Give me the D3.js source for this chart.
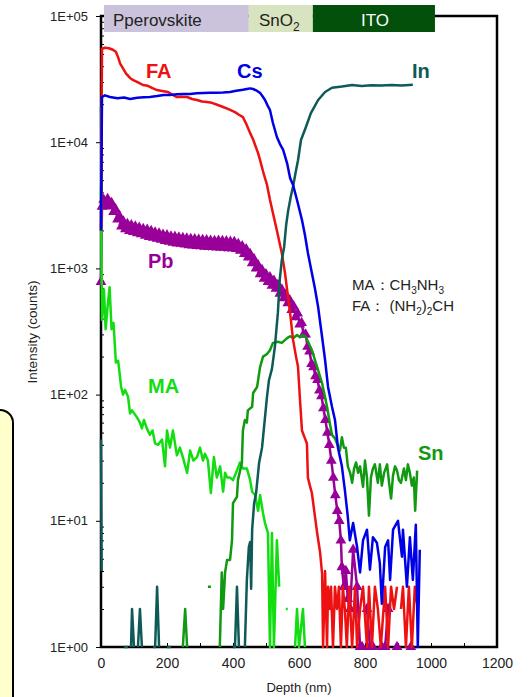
<!DOCTYPE html>
<html>
<head>
<meta charset="utf-8">
<script src="https://cdn.jsdelivr.net/npm/d3@7"></script>
<style>
body { margin: 0; background: #fff; }
svg { display: block; }
</style>
</head>
<body>
<div id="chart"></div>
<script>
// depth (nm) / intensity (counts) pairs, 0 = no counts
var FA = [[0,2000],[3,55000],[12,56000],[24,55500],[36,54000],[45,52000],[52,47000],[58,42000],[64,39500],[76,35000],[88,32300],[98,31000],[109,30000],[118,29200],[127,28400],[142,28000],[156,26800],[170,25900],[185,25500],[203,25000],[216,23800],[230,22800],[245,22900],[261,22800],[276,22000],[291,21600],[306,21000],[321,20800],[336,20500],[352,19800],[370,19000],[388,18200],[406,17300],[418,16500],[430,15800],[440,14000],[452,11800],[461,10500],[467,9500],[476,8200],[482,7200],[494,5500],[503,4600],[512,3500],[521,2750],[533,2000],[548,1320],[558,900],[564,675],[573,444],[582,271],[591,200],[597,166],[603,91],[609,52],[618,45],[624,41],[627,22],[633,19],[639,16.6],[648,11],[655,8],[664,5.6],[670,3.8],[673,1],[679,4],[685,1],[688,3],[694,2],[697,3],[703,1],[709,3],[715,2],[721,3],[727,1],[733,3],[739,2],[745,1],[752,3],[761,1],[770,3],[776,1],[785,2],[794,3],[806,1],[812,3],[821,1],[830,3],[839,2],[848,1],[861,3],[870,1],[879,3],[888,2],[897,3],[903,0],[909,2],[915,3],[924,1],[933,3],[942,1],[951,3],[960,2]];

var Cs = [[0,2000],[3,22800],[12,23500],[27,22800],[50,22300],[70,22600],[88,22000],[110,22500],[130,22700],[148,22800],[170,23200],[190,23700],[209,23700],[230,24000],[250,24100],[270,24100],[290,24400],[310,24500],[330,24600],[350,24700],[370,24800],[391,25000],[410,25600],[430,26000],[442,26400],[452,26700],[461,26400],[472,25600],[482,24600],[490,23000],[497,21600],[505,19500],[512,18000],[521,14200],[533,11000],[542,9700],[552,8700],[564,6800],[573,5200],[582,4580],[594,3480],[609,2420],[618,1840],[627,1325],[639,920],[648,700],[658,494],[670,286],[679,188],[688,115],[700,80],[709,63],[718,38],[730,27],[739,17.5],[748,10.7],[754,7],[764,9.6],[776,6.2],[785,3.9],[794,7],[806,8.5],[815,4.1],[824,7.4],[836,6.7],[845,4.6],[851,2.2],[861,6.2],[870,7],[876,3.4],[885,8.5],[900,10],[912,5.2],[915,8.5],[927,3],[936,7.4],[945,3.4],[954,9.3],[960,1],[966,5.9]];

var In = [[0,44],[2,4],[6,0],[64,0],[70,1],[82,1],[88,0],[91,1],[94,2],[100,1],[106,0],[112,1],[118,2],[124,1],[130,0],[158,1],[164,1],[170,3],[176,1],[182,0],[200,1],[212,1],[218,0],[300,0],[306,1],[312,0],[400,1],[406,1],[412,3],[418,1],[424,0],[436,1],[442,3.4],[448,6.2],[452,6.8],[455,2.9],[458,8.5],[464,13.8],[470,16.6],[479,28.7],[488,38],[503,96],[509,130],[518,160],[527,240],[536,446],[542,830],[548,1170],[555,1480],[561,2200],[567,2850],[575,3700],[582,4450],[591,6000],[597,7200],[606,10400],[621,13200],[636,17000],[658,21600],[679,25000],[700,27000],[730,27600],[761,28400],[790,27900],[820,28300],[850,28100],[880,28400],[910,28200],[945,28500]];

var MA = [[0,4500],[3,390],[9,680],[14,330],[20,500],[26,710],[32,330],[38,370],[45,180],[52,185],[61,115],[67,100],[73,109],[82,96],[88,71],[94,75],[109,66],[118,60],[124,54],[130,63],[139,54],[148,48],[156,52],[164,41],[173,40],[185,44],[194,27],[200,52],[209,38],[218,52],[230,33],[239,38],[248,32],[261,24],[270,36],[280,30],[291,32],[300,38],[309,30],[315,34],[324,30],[333,16.6],[342,32],[351,22],[361,27],[370,17],[376,24],[382,22],[391,22],[400,21],[412,25],[421,29],[430,26],[442,26],[452,21],[458,17],[467,16],[476,12],[482,16],[491,11.5],[497,9.6],[506,8],[512,1],[518,8],[524,1],[533,7],[540,3],[546,0],[560,2],[566,2],[572,0],[588,1],[594,2],[600,1],[612,2],[618,1],[624,0]];

var Sn = [[0,19000],[2,4000],[5,0],[248,1],[255,2],[261,1],[267,0],[324,3],[333,3],[338,0],[360,1],[366,3.9],[370,2],[376,3.9],[382,4.9],[391,4.9],[397,7],[400,13.8],[412,15.5],[415,21],[427,29],[430,52],[436,63],[442,60],[445,75],[458,80],[461,103],[473,115],[482,165],[491,200],[503,210],[512,225],[521,257],[536,262],[548,257],[564,280],[573,290],[582,280],[594,297],[603,285],[612,297],[621,285],[627,265],[639,225],[655,165],[670,123],[685,80],[694,58],[700,48],[709,45],[715,41],[724,36],[730,46],[736,38],[742,38],[748,27],[755,24],[761,20],[767,26],[773,29],[779,24],[785,27],[794,18.6],[800,30],[806,22],[812,11],[818,22],[824,26],[830,28],[839,20],[845,28],[851,19],[858,24],[867,28],[873,20],[879,15],[885,23],[891,27],[897,25],[903,21],[909,20],[918,26],[924,21],[930,28],[936,24],[942,19],[948,22],[952,12],[958,25]];

var Pb = [[0,780],[3,3080],[8,3500],[14,3250],[20,3550],[26,3100],[32,3300],[38,2800],[44,2950],[50,2450],[56,2600],[62,2150],[68,2350],[74,2050],[80,2250],[86,1980],[92,2200],[98,1950],[104,2150],[110,1900],[116,2100],[122,1870],[128,2050],[134,1820],[140,2030],[146,1780],[152,1980],[158,1750],[164,1930],[170,1720],[176,1890],[182,1690],[188,1850],[194,1650],[200,1830],[206,1630],[212,1790],[218,1600],[224,1780],[230,1580],[236,1760],[242,1570],[248,1740],[254,1550],[260,1730],[266,1530],[272,1710],[278,1520],[284,1700],[290,1510],[296,1690],[302,1500],[308,1680],[314,1490],[320,1670],[326,1480],[332,1660],[338,1480],[344,1650],[350,1470],[356,1660],[362,1470],[368,1650],[374,1460],[380,1640],[386,1450],[392,1630],[398,1450],[404,1620],[410,1430],[416,1560],[422,1380],[428,1500],[434,1300],[440,1420],[446,1220],[452,1300],[458,1100],[464,1180],[470,1000],[476,1060],[482,900],[488,970],[494,830],[500,900],[506,780],[512,850],[518,730],[524,800],[530,690],[536,740],[542,630],[548,680],[554,580],[560,620],[566,530],[572,560],[578,470],[584,500],[590,410],[596,440],[602,360],[608,370],[614,300],[620,300],[626,240],[632,220],[638,175],[644,165],[650,140],[656,131],[662,108],[668,97],[674,78],[680,63],[686,50],[692,40],[698,30],[704,22],[710,16],[716,12],[722,10],[727,7],[730,4.3],[736,3],[742,4],[748,2.4],[755,2],[764,5.9],[776,3],[785,1],[791,1],[797,0],[806,2],[815,1],[824,1],[833,0],[851,1],[861,1],[870,2],[879,0],[897,1],[906,0],[939,1],[948,0]];

var depthTicks = [0, 200, 400, 600, 800, 1000, 1200];
var intensityTicks = [1, 10, 100, 1000, 10000, 100000];
var layerNames = ["Pperovskite", "SnO", "ITO"];
var layerFrom = [9, 448, 642];
var layerTo = [448, 642, 1012];

var W = 530, H = 697;
var svg = d3.select("#chart").append("svg")
  .attr("width", W)
  .attr("height", H)
  .style("font-family", "'Liberation Sans', Arial, sans-serif");

var x = d3.scaleLinear().domain([0, 1200]).range([101, 497]);
var y = d3.scaleLog().domain([1, 100000]).range([647, 16]);

// yellow note box on the left edge
svg.append("rect")
  .attr("x", -30).attr("y", 410)
  .attr("width", 43).attr("height", 320)
  .attr("rx", 13)
  .attr("fill", "#ffffcc")
  .attr("stroke", "#000")
  .attr("stroke-width", 2);

// frame
svg.append("rect")
  .attr("x", 101).attr("y", 16)
  .attr("width", 396).attr("height", 631)
  .attr("fill", "none")
  .attr("stroke", "#000")
  .attr("stroke-width", 2.5);

// y axis
var yAxis = svg.append("g")
  .attr("transform", "translate(101,0)")
  .call(d3.axisLeft(y).tickValues(intensityTicks).tickSize(5).tickPadding(8)
    .tickFormat(function(d) { return "1E+0" + Math.round(Math.log10(d)); }));
yAxis.select(".domain").remove();
yAxis.selectAll("text").attr("font-size", 13).attr("fill", "#222");

var minor = y.ticks().filter(function(d) { return intensityTicks.indexOf(d) < 0; });
var yMinor = svg.append("g")
  .attr("transform", "translate(101,0)")
  .call(d3.axisRight(y).tickValues(minor).tickSize(3).tickFormat(""));
yMinor.select(".domain").remove();

// x axis
var xAxis = svg.append("g")
  .attr("transform", "translate(0,647)")
  .call(d3.axisBottom(x).tickValues(depthTicks).tickSize(0).tickPadding(11).tickFormat(d3.format("d")));
xAxis.select(".domain").remove();
xAxis.selectAll("text").attr("font-size", 14).attr("fill", "#222");

var xInner = svg.append("g")
  .attr("transform", "translate(0,647)")
  .call(d3.axisTop(x).tickValues(d3.range(100, 1200, 100)).tickSize(4).tickFormat(""));
xInner.select(".domain").remove();

svg.append("text")
  .attr("x", 299).attr("y", 692)
  .attr("text-anchor", "middle")
  .attr("font-size", 13)
  .attr("fill", "#222")
  .text("Depth (nm)");

svg.append("text")
  .attr("transform", "translate(37,332) rotate(-90)")
  .attr("text-anchor", "middle")
  .attr("font-size", 13.5)
  .attr("fill", "#222")
  .text("Intensity (counts)");

// layer header
var layerFill = ["#cbc3dc", "#d8e4bf", "#03500a"];
var layerInk = ["#222", "#222", "#fff"];
svg.selectAll("rect.layer")
  .data(layerNames)
  .enter().append("rect")
  .attr("class", "layer")
  .attr("x", function(d, i) { return x(layerFrom[i]); })
  .attr("y", 5)
  .attr("width", function(d, i) { return x(layerTo[i]) - x(layerFrom[i]); })
  .attr("height", 27)
  .attr("fill", function(d, i) { return layerFill[i]; });

svg.append("text").attr("x", 113).attr("y", 26).attr("font-size", 17).attr("fill", layerInk[0]).text(layerNames[0]);
var sno = svg.append("text").attr("x", 259).attr("y", 26).attr("font-size", 17).attr("fill", layerInk[1]);
sno.append("tspan").text(layerNames[1]);
sno.append("tspan").attr("dy", 5).attr("font-size", 12).text("2");
svg.append("text").attr("x", 375).attr("y", 26).attr("text-anchor", "middle").attr("font-size", 17).attr("fill", layerInk[2]).text(layerNames[2]);

// profiles
var line = d3.line()
  .defined(function(d) { return d[1] > 0; })
  .x(function(d) { return x(d[0]); })
  .y(function(d) { return y(d[1]); });

var pbColor = "#990099";
svg.append("path").datum(Pb)
  .attr("d", line).attr("fill", "none")
  .attr("stroke", pbColor).attr("stroke-width", 2.5);
svg.selectAll("path.pb")
  .data(Pb.filter(function(d) { return d[1] > 0; }))
  .enter().append("path")
  .attr("class", "pb")
  .attr("d", d3.symbol(d3.symbolTriangle, 50))
  .attr("transform", function(d) { return "translate(" + x(d[0]) + "," + y(d[1]) + ")"; })
  .attr("fill", pbColor);

var series = [
  { data: MA, color: "#11dd11" },
  { data: Sn, color: "#119911" },
  { data: FA, color: "#ee1111" },
  { data: In, color: "#0d5a57" },
  { data: Cs, color: "#0000e6" }
];
svg.selectAll("path.profile")
  .data(series)
  .enter().append("path")
  .attr("class", "profile")
  .attr("d", function(s) { return line(s.data); })
  .attr("fill", "none")
  .attr("stroke", function(s) { return s.color; })
  .attr("stroke-width", 2.5)
  .attr("stroke-linejoin", "round");

// element labels
var labels = [
  { t: "FA", x: 146, y: 78, c: "#ee1111" },
  { t: "Cs", x: 237, y: 78, c: "#0000e6" },
  { t: "In", x: 412, y: 78, c: "#0d5a57" },
  { t: "Pb", x: 148, y: 268, c: pbColor },
  { t: "MA", x: 148, y: 393, c: "#11dd11" },
  { t: "Sn", x: 418, y: 460, c: "#119911" }
];
svg.selectAll("text.elem")
  .data(labels)
  .enter().append("text")
  .attr("class", "elem")
  .attr("x", function(d) { return d.x; })
  .attr("y", function(d) { return d.y; })
  .attr("font-size", 20)
  .attr("font-weight", "bold")
  .attr("fill", function(d) { return d.c; })
  .text(function(d) { return d.t; });

// formula note
var note1 = svg.append("text").attr("x", 352).attr("y", 290).attr("font-size", 15).attr("fill", "#222");
note1.append("tspan").text("MA：CH");
note1.append("tspan").attr("dy", 4).attr("font-size", 10).text("3");
note1.append("tspan").attr("dy", -4).text("NH");
note1.append("tspan").attr("dy", 4).attr("font-size", 10).text("3");

var note2 = svg.append("text").attr("x", 352).attr("y", 311).attr("font-size", 15).attr("fill", "#222");
note2.append("tspan").text("FA： (NH");
note2.append("tspan").attr("dy", 4).attr("font-size", 10).text("2");
note2.append("tspan").attr("dy", -4).text(")");
note2.append("tspan").attr("dy", 4).attr("font-size", 10).text("2");
note2.append("tspan").attr("dy", -4).text("CH");
</script>
</body>
</html>
